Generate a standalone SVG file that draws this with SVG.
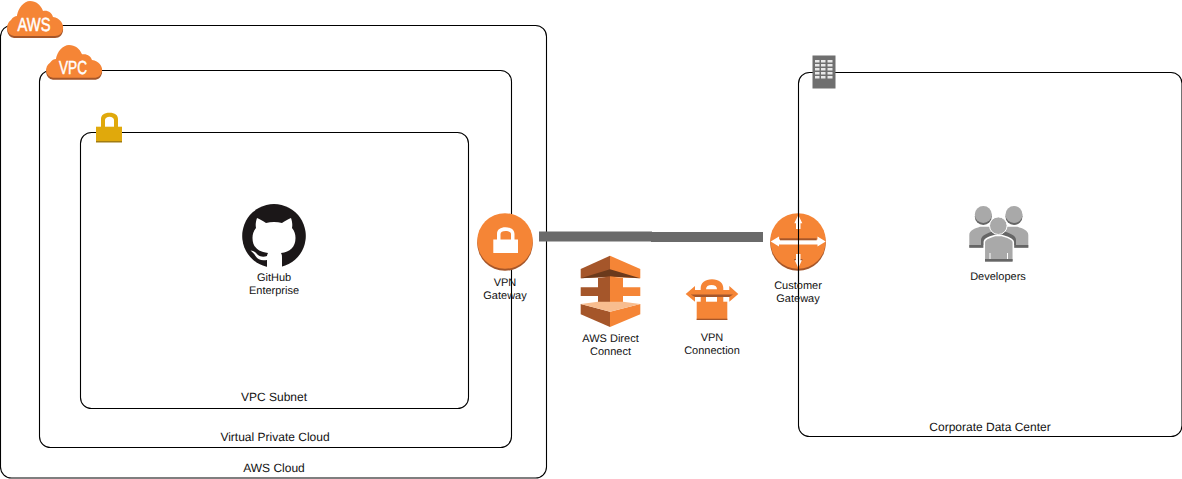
<svg xmlns="http://www.w3.org/2000/svg" width="1182" height="479" viewBox="0 0 1182 479">
<style>
.frame{fill:none;stroke:#000;stroke-width:1.1}
text{font-family:"Liberation Sans",Arial,sans-serif;fill:#111;text-anchor:middle;text-rendering:geometricPrecision}
.t12{font-size:12px}
.t11{font-size:11px}
text.badge{fill:#fff;stroke:#fff;stroke-width:.5}
.o{fill:#f58536}
.od{fill:#a5562a}
.w{fill:#fff}
.g{fill:#a9a9a9}
.gd{fill:#666}
.bar{fill:#6a6a6a}
</style>
<defs>
<path id="cloud" d="M14 36C6 35 5 24 11 20C13 17 15 16 17 16C18 8 24 1 30 1C36 1 41 5 43 11C48 10 52 13 53 17C60 18 64 24 63 29C62 33 60 36 55 36Z"/>
</defs>
<rect width="1182" height="479" fill="#fff"/>
<g id="aws-cloud">
<rect class="frame" x="0.500" y="25.500" width="546" height="452.500" rx="11"/>
<use href="#cloud" class="od" y="2"/>
<use href="#cloud" class="o"/>
<text class="badge" x="34" y="31" font-size="19" textLength="33" lengthAdjust="spacingAndGlyphs">AWS</text>
<text class="t12" x="274" y="472">AWS Cloud</text>
</g>
<g id="vpc">
<rect class="frame" x="39.500" y="70.500" width="472" height="377" rx="11"/>
<use href="#cloud" class="od" transform="translate(39 46) scale(1 .94)"/>
<use href="#cloud" class="o" transform="translate(39 44) scale(1 .94)"/>
<text class="badge" x="73" y="74" font-size="19" textLength="28" lengthAdjust="spacingAndGlyphs">VPC</text>
<text class="t12" x="275" y="441">Virtual Private Cloud</text>
</g>
<g id="subnet">
<rect class="frame" x="80.500" y="132.500" width="388" height="276" rx="11"/>
<rect x="96" y="126.700" width="26" height="15" fill="#e0a90c"/>
<rect x="96" y="141" width="26" height="1.500" fill="#a17c12"/>
<path d="M101 128V119C101 115 104 112.700 109.500 112.700C115 112.700 118 115 118 119V128H114V120C114 118 112 116.700 109.500 116.700C107 116.700 105 118 105 120V128Z" fill="#e0a90c"/>
<text class="t12" x="274" y="401">VPC Subnet</text>
</g>
<g id="corporate">
<rect class="frame" x="798.500" y="72.500" width="383.500" height="364" rx="11"/>
<rect x="812.500" y="55.500" width="23" height="33" fill="#6f6f6f"/>
<path d="M815 60h4.500v2.500h-4.500zM821 60h4.500v2.500h-4.500zM827.500 60h5v2.500h-5zM815 64h4.500v2.500h-4.500zM821 64h4.500v2.500h-4.500zM827.500 64h5v2.500h-5zM815 68h4.500v2.500h-4.500zM821 68h4.500v2.500h-4.500zM827.500 68h5v2.500h-5zM815 72h4.500v2.500h-4.500zM821 72h4.500v2.500h-4.500zM827.500 72h5v2.500h-5zM815 76h4.500v2.500h-4.500zM821 76h4.500v2.500h-4.500zM827.500 76h5v2.500h-5z" fill="#e8e8e8"/>
<text class="t12" x="990" y="431">Corporate Data Center</text>
</g>
<g id="connectors">
<rect class="bar" x="539" y="231.500" width="113" height="10"/>
<rect class="bar" x="651" y="232" width="112" height="10"/>
</g>
<g id="github">
<path d="M266.500 266.800A31.800 31.800 0 1 1 281.500 266.800Z" fill="#1b1718"/>
<path d="M257 218C260 219 263 221 266 223C271 221.700 277 221.700 282 223C285 221 288 219 291 218C292.500 222 292.500 226 292 228C294.500 231 295.500 234 295.500 238C295.500 247 290 252 281 253C282 254.500 282 256 282 258V267H267V260C262 261 258 260 255.500 256C254 253.500 252.500 252 250.500 250.500C254 250.500 256.500 253 258 255C260.500 257 264 257 267 256C267 255 267.500 254 268 253C258 252 252.500 247 252.500 238C252.500 234 253.500 231 256 228C255.500 226 255.500 222 257 218Z" fill="#fff"/>
<text class="t11" x="274" y="281">GitHub</text>
<text class="t11" x="274" y="294">Enterprise</text>
</g>
<g id="vpn-gateway">
<circle class="od" cx="505" cy="243" r="27.800"/>
<circle class="o" cx="505" cy="241" r="27.800"/>
<rect class="w" x="493.300" y="239.500" width="24.700" height="13.500"/>
<path class="w" d="M497 241V234C497 229.500 500.500 227.300 505.500 227.300C510.500 227.300 514.500 229.500 514.500 234V241H511V234C511 232 508.500 231 505.500 231C502.500 231 500.500 232 500.500 234V241Z"/>
<text class="t11" x="505" y="286">VPN</text>
<text class="t11" x="505" y="299">Gateway</text>
</g>
<g id="direct-connect">
<path class="od" d="M610 255.700L580.700 269V278.300L610 277Z"/>
<path class="o" d="M610 255.700L640.300 269V278.300L610 277Z"/>
<path d="M580.700 278.300L610 269.300L640.300 278.300L610 276.500Z" fill="#6b3a1c"/>
<path class="od" d="M610 276.500V302H598V296H580.700V287.300H598V278Z"/>
<path class="o" d="M610 276.500V302H623V296H640.300V287.300H623V278Z"/>
<path class="od" d="M580.700 304L610 311.700V327L580.700 314.300Z"/>
<path class="o" d="M640.300 304L610 311.700V327L640.300 314.300Z"/>
<path d="M580.700 304L598 301.700H623L640.300 304L610 311.700Z" fill="#f8bd8f"/>
<text class="t11" x="610.500" y="342">AWS Direct</text>
<text class="t11" x="610.500" y="355">Connect</text>
</g>
<g id="vpn-connection">
<rect class="o" x="696.700" y="301.700" width="30.600" height="18.300"/>
<rect class="od" x="696.700" y="318.700" width="30.600" height="1.300"/>
<path class="o" d="M685.700 294L695 286V290H700.700V288C700.700 283 705 279.300 712 279.300C719 279.300 723.300 283 723.300 288V290H729.300V286L738.300 294L729.300 301.700V297H723.300V302H700.700V297H695V301.700Z"/>
<path class="w" d="M706 289.300C706 286.500 708 285 711.500 285C715 285 717 286.500 717 289.300Z"/>
<rect class="w" x="706" y="296.700" width="11" height="5"/>
<path class="od" d="M690.700 294.500H733L729.300 297H695Z"/>
<text class="t11" x="712" y="341">VPN</text>
<text class="t11" x="712" y="354">Connection</text>
</g>
<g id="customer-gateway">
<circle class="od" cx="798" cy="243" r="27.800"/>
<circle class="o" cx="798" cy="241" r="27.800"/>
<path class="w" d="M770.700 241.500L779 236.500V239.500H817.500V236.500L825.700 241.500L817.500 246.500V244.500H779V246.500Z"/>
<rect class="od" x="780" y="238.300" width="36.700" height="2"/>
<path class="w" d="M798.300 215L802.300 223.300H800.500V229H796V223.300H794.300ZM798.300 268L794.300 259.300H796V254H800.500V259.300H802.300Z"/>
<path class="od" d="M794 259h2v1.200h-2zM800.500 259h2v1.200h-2z"/>
<path d="M798.500 200V300" stroke="#000" stroke-width="1.100"/>
<text class="t11" x="798" y="289">Customer</text>
<text class="t11" x="798" y="302">Gateway</text>
</g>
<g id="developers">
<circle class="gd" cx="983.300" cy="216.500" r="8.500"/>
<circle class="g" cx="983.300" cy="214.500" r="8.500"/>
<circle class="gd" cx="1014" cy="216.500" r="8.500"/>
<circle class="g" cx="1014" cy="214.500" r="8.500"/>
<path class="g" d="M969.300 247.700V235C969.300 230 975 228.500 980 226.700H1017.500C1022.500 228.500 1028.300 230 1028.300 235V247.700Z"/>
<rect class="gd" x="969.300" y="245" width="14" height="2.700"/>
<rect class="gd" x="1014.300" y="245" width="14" height="2.700"/>
<path d="M981 245V240C981 235 988 233 994 231H1003C1009 233 1016 235 1016 240V245Z" fill="#666"/>
<path class="g" d="M984.300 261.700V242C984.300 238.500 990 237 995 235.500H1002C1007 237 1013.300 238.500 1013.300 242V261.700Z" stroke="#fff" stroke-width="1.500"/>
<circle class="g" cx="998.300" cy="225.700" r="8.800" stroke="#fff" stroke-width="1"/>
<rect class="gd" x="985" y="259" width="27.600" height="2.700"/>
<path d="M990 253V259M1007.500 253V259" stroke="#fff" stroke-width="1"/>
<text class="t11" x="998" y="280">Developers</text>
</g>
</svg>
